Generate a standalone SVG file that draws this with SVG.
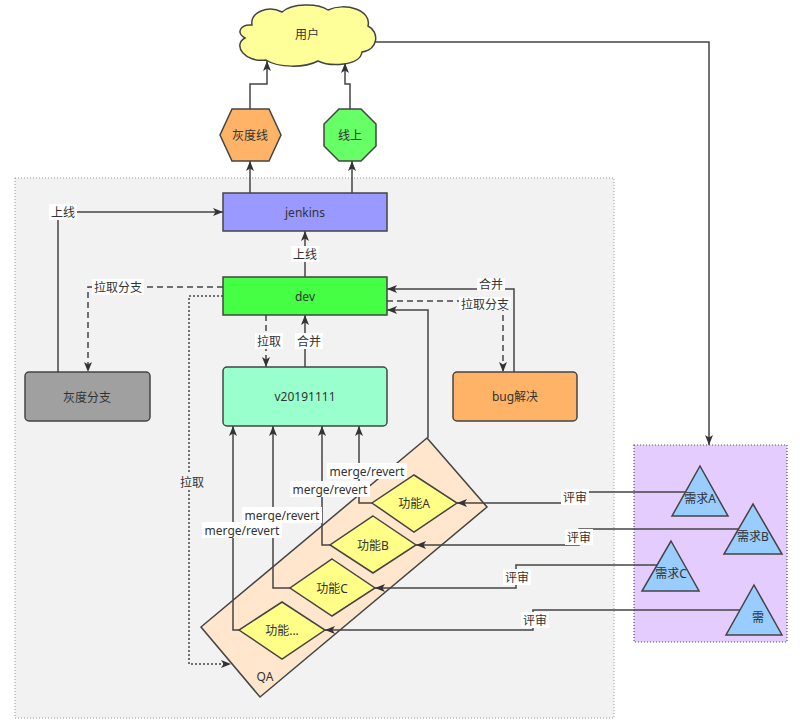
<svg xmlns="http://www.w3.org/2000/svg" width="800" height="728" viewBox="0 0 800 728">
<style>
text{font-family:"Noto Sans","Noto Sans CJK SC",sans-serif;font-size:12px;fill:#333;text-anchor:middle;dominant-baseline:central}
.n{stroke:#444;stroke-width:1.5}
.e{fill:none;stroke:#444;stroke-width:1.5}
.ea{fill:none;stroke:#444;stroke-width:1.5;marker-end:url(#arr)}
.dash{stroke-dasharray:6 4}
.dot{stroke-dasharray:2 2}
.lb{fill:#fff}
</style>
<defs>
<marker id="arr" viewBox="0 0 10 8" refX="10" refY="4" markerWidth="10" markerHeight="8" markerUnits="userSpaceOnUse" orient="auto">
<path d="M0,0 L10,4 L0,8 L2.5,4 Z" fill="#333"/>
</marker>
</defs>
<rect width="800" height="728" fill="#fff"/>
<g id="container">
<rect x="15" y="178" width="599" height="540" fill="#F2F2F2" stroke="#999" stroke-dasharray="1 2"/>
</g>
<g id="reqs-box">
<rect x="634" y="445" width="153" height="197" fill="#E5CCFF" stroke="#555" stroke-dasharray="1 2" stroke-width="1.2"/>
</g>
<g id="qa">
<polygon class="n" points="427,438 487,507 260,697 201,627" fill="#FFE6CC"/>
<text x="265" y="676">QA</text>
</g>
<g id="connectors">
<path class="ea" d="M250,109 V84 H267 V61"/>
<path class="ea" d="M350,109 V84 H345 V63"/>
<path class="ea" d="M250,193 V161"/>
<path class="ea" d="M352,193 V161"/>
<path class="ea" d="M305,277 V231"/>
<path class="ea" d="M58,372 V212 H223"/>
<path class="ea dash" d="M223,287 H88 V372"/>
<path class="ea dot" d="M223,296 H189 V664 H231"/>
<path class="ea dash" d="M266,315 V367"/>
<path class="ea" d="M305,367 V315"/>
<path class="ea" d="M514,372 V289 H387"/>
<path class="ea dash" d="M387,301 H503 V372"/>
<path class="ea" d="M428,438 V310 H387"/>
<path class="ea" d="M372,503 H359 V426"/>
<path class="ea" d="M330,545 H322 V426"/>
<path class="ea" d="M290,588 H273 V426"/>
<path class="ea" d="M239,630 H233 V426"/>
<path class="ea" d="M685,492 H575 V503 H457"/>
<path class="ea" d="M738,529 H579 V545 H416"/>
<path class="ea" d="M657,565 H516 V588 H375"/>
<path class="ea" d="M740,610 H533 V630 H325"/>
<path class="ea" d="M375,42 H709 V445"/>
<rect class="lb" x="291" y="246" width="28" height="16"/><text x="305" y="254">上线</text>
<rect class="lb" x="49" y="204" width="28" height="16"/><text x="63" y="212">上线</text>
<rect class="lb" x="92" y="279" width="52" height="16"/><text x="118" y="287">拉取分支</text>
<rect x="178" y="474" width="28" height="16" fill="#F2F2F2"/><text x="192" y="482">拉取</text>
<rect class="lb" x="255" y="333" width="28" height="16"/><text x="269" y="341">拉取</text>
<rect class="lb" x="295" y="333" width="28" height="16"/><text x="309" y="341">合并</text>
<rect class="lb" x="477" y="278" width="28" height="13"/><text x="491" y="284" font-size="11.5">合并</text>
<rect class="lb" x="459" y="297" width="52" height="13"/><text x="485" y="304" font-size="11.5">拉取分支</text>
<rect class="lb" x="327" y="463" width="80" height="16"/><text x="367" y="471">merge/revert</text>
<rect class="lb" x="290" y="481" width="80" height="16"/><text x="330" y="489">merge/revert</text>
<rect class="lb" x="242" y="507" width="80" height="16"/><text x="282" y="515">merge/revert</text>
<rect class="lb" x="202" y="522" width="80" height="16"/><text x="242" y="530">merge/revert</text>
<rect class="lb" x="561" y="489" width="28" height="16"/><text x="575" y="497">评审</text>
<rect class="lb" x="565" y="529" width="28" height="16"/><text x="579" y="537">评审</text>
<rect class="lb" x="503" y="569" width="28" height="16"/><text x="517" y="577">评审</text>
<rect class="lb" x="521" y="612" width="28" height="16"/><text x="535" y="620">评审</text>
</g>
<g id="user">
<path class="n" fill="#FFFF99" d="M252,25 C250,12 268,5 282,12 C292,3 318,3 328,10 C345,2 372,10 368,26 C380,32 378,50 362,52 C360,66 330,67 318,61 C305,68 278,68 266,60 C245,63 232,45 245,38 C236,33 240,24 252,25 Z"/>
<text x="307" y="34">用户</text>
</g>
<g id="gray-line">
<polygon class="n" points="232,109 269,109 281,135 269,161 232,161 220,135" fill="#FFB366"/>
<text x="250" y="135">灰度线</text>
</g>
<g id="online">
<polygon class="n" points="339,109 361,109 376,124 376,146 361,161 339,161 324,146 324,124" fill="#66FF66"/>
<text x="350" y="135">线上</text>
</g>
<g id="jenkins">
<rect class="n" x="223" y="193" width="164" height="38" fill="#9999FF"/>
<text x="305" y="212">jenkins</text>
</g>
<g id="dev">
<rect class="n" x="223" y="277" width="164" height="38" fill="#44FF44"/>
<text x="305" y="296">dev</text>
</g>
<g id="v20191111">
<rect class="n" x="223" y="367" width="164" height="59" rx="4" fill="#99FFCC"/>
<text x="305" y="396">v20191111</text>
</g>
<g id="gray-branch">
<rect class="n" x="25" y="372" width="125" height="49" rx="4" fill="#A0A0A0"/>
<text x="87" y="397">灰度分支</text>
</g>
<g id="bugfix">
<rect class="n" x="453" y="372" width="124" height="49" rx="4" fill="#FFB366"/>
<text x="515" y="396">bug解决</text>
</g>
<g id="featA">
<polygon class="n" points="414,475 457,503 414,532 372,503" fill="#FFFF88"/>
<text x="414" y="503">功能A</text>
</g>
<g id="featB">
<polygon class="n" points="373,516 416,545 373,573 330,545" fill="#FFFF88"/>
<text x="373" y="545">功能B</text>
</g>
<g id="featC">
<polygon class="n" points="332,559 375,588 332,616 290,588" fill="#FFFF88"/>
<text x="332" y="588">功能C</text>
</g>
<g id="featX">
<polygon class="n" points="282,602 325,630 282,659 239,630" fill="#FFFF88"/>
<text x="282" y="630">功能...</text>
</g>
<g id="reqA">
<polygon class="n" points="700,466 728,516 672,516" fill="#99CCFF"/>
<text x="700" y="498">需求A</text>
</g>
<g id="reqB">
<polygon class="n" points="753,504 782,554 724,554" fill="#99CCFF"/>
<text x="753" y="536">需求B</text>
</g>
<g id="reqC">
<polygon class="n" points="671,541 699,591 642,591" fill="#99CCFF"/>
<text x="671" y="573">需求C</text>
</g>
<g id="reqD">
<polygon class="n" points="754,585 782,635 726,635" fill="#99CCFF"/>
<text x="758" y="617">需</text>
</g>
</svg>
